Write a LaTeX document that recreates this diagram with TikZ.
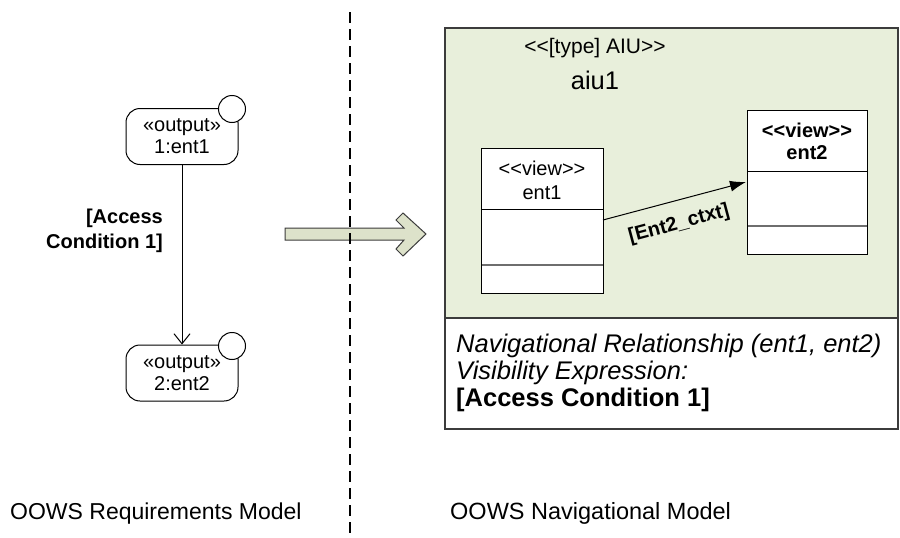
\documentclass[tikz,border=0pt]{standalone}
\usepackage{fontspec}
\setmainfont{Liberation Sans}
\usetikzlibrary{arrows.meta}
\definecolor{aiugreen}{RGB}{232,239,219}
\definecolor{arrowfill}{RGB}{221,226,202}
\definecolor{edgegrey}{RGB}{60,60,60}
\definecolor{divgrey}{RGB}{110,110,110}
\tikzset{
  small/.style={font=\fontsize{20}{22}\selectfont},
  big/.style={font=\fontsize{23.5}{27}\selectfont},
  reqnode/.style={draw, line width=1pt, rounded corners=14pt, fill=white, minimum width=112pt, minimum height=56pt, inner sep=0pt, align=center, small},
  marker/.style={draw, line width=1pt, circle, fill=white, minimum size=27pt, inner sep=0pt},
  classbox/.style={draw, line width=1pt, fill=white},
  plainline/.style={line width=1pt},
}
\begin{document}
\begin{tikzpicture}[x=1pt,y=-1pt]
\useasboundingbox (0,0) rectangle (900,538);
% requirements model
\node[reqnode, font=\fontsize{20}{22}\selectfont] (r1) at (182,136.5) {«output»\\1:ent1};
\node[marker] (c1) at (232,109) {};
\node[reqnode, font=\fontsize{20}{22}\selectfont] (r2) at (182,373) {«output»\\2:ent2};
\node[marker] (c2) at (232,346) {};
\draw[plainline, -{Straight Barb[length=10pt,width=16pt]}] (r1.south) -- (r2.north);
\node[anchor=east, align=right, font=\bfseries\fontsize{20}{25}\selectfont, inner sep=0pt] (cond) at (163,231) {[Access\\Condition 1]};
% big arrow
\draw[line width=1pt, draw=edgegrey, fill=arrowfill] (285,228) -- (404,228) -- (396,220) -- (403,213) -- (426,234) -- (403,256) -- (396,249) -- (404,240) -- (285,240) -- cycle;
% divider
\coordinate (dtop) at (350,12);
\coordinate (dbot) at (350,538);
\draw[line width=2pt, dash pattern=on 11pt off 6pt] (dtop) -- (dbot);
% navigational model
\draw[line width=1.2pt, draw=edgegrey, fill=aiugreen] (445,28) rectangle (898,318);
\draw[line width=1.2pt, draw=edgegrey, fill=white] (445,318) rectangle (898,429);
\node[font=\fontsize{21}{24}\selectfont] (ttl) at (595,48) {<{}<[type] AIU>{}>};
\node[font=\fontsize{25.5}{30}\selectfont] (aiu) at (595,80) {aiu1};
% ent1
\draw[classbox] (481,148) rectangle (603,293);
\draw[plainline] (481,209) -- (603,209);
\draw[line width=1.5pt, divgrey] (481,265) -- (603,265);
\draw[plainline] (481,148) rectangle (603,293);
\node[small, align=center, font=\fontsize{20}{24}\selectfont] (e1) at (542,180) {<{}<view>{}>\\ent1};
\coordinate (e1out) at (603,220);
% ent2
\draw[classbox] (747,110) rectangle (867,254);
\draw[plainline] (747,171) -- (867,171);
\draw[line width=1.5pt, divgrey] (747,226) -- (867,226);
\draw[plainline] (747,110) rectangle (867,254);
\node[align=center, font=\bfseries\fontsize{20}{22}\selectfont] (e2) at (807,141) {<{}<view>{}>\\ent2};
\coordinate (e2in) at (746,182);
\draw[plainline, -{Latex[length=16pt,width=11pt]}] (e1out) -- (e2in);
\node[font=\bfseries\fontsize{20}{22}\selectfont, rotate=15] (ctxt) at (679,224) {[Ent2\_ctxt]};
% expression
\node[anchor=north west, align=left, inner sep=0pt, font=\fontsize{25.5}{27}\selectfont] (expr) at (456,334) {\itshape Navigational Relationship (ent1, ent2)\\\itshape Visibility Expression:\\\bfseries [Access Condition 1]};
% captions
\node[anchor=base west, font=\fontsize{23}{27}\selectfont, inner sep=0pt] (capL) at (10,519) {OOWS Requirements Model};
\node[anchor=base west, font=\fontsize{23.5}{27}\selectfont, inner sep=0pt] (capR) at (450,519) {OOWS Navigational Model};
\end{tikzpicture}
\end{document}
